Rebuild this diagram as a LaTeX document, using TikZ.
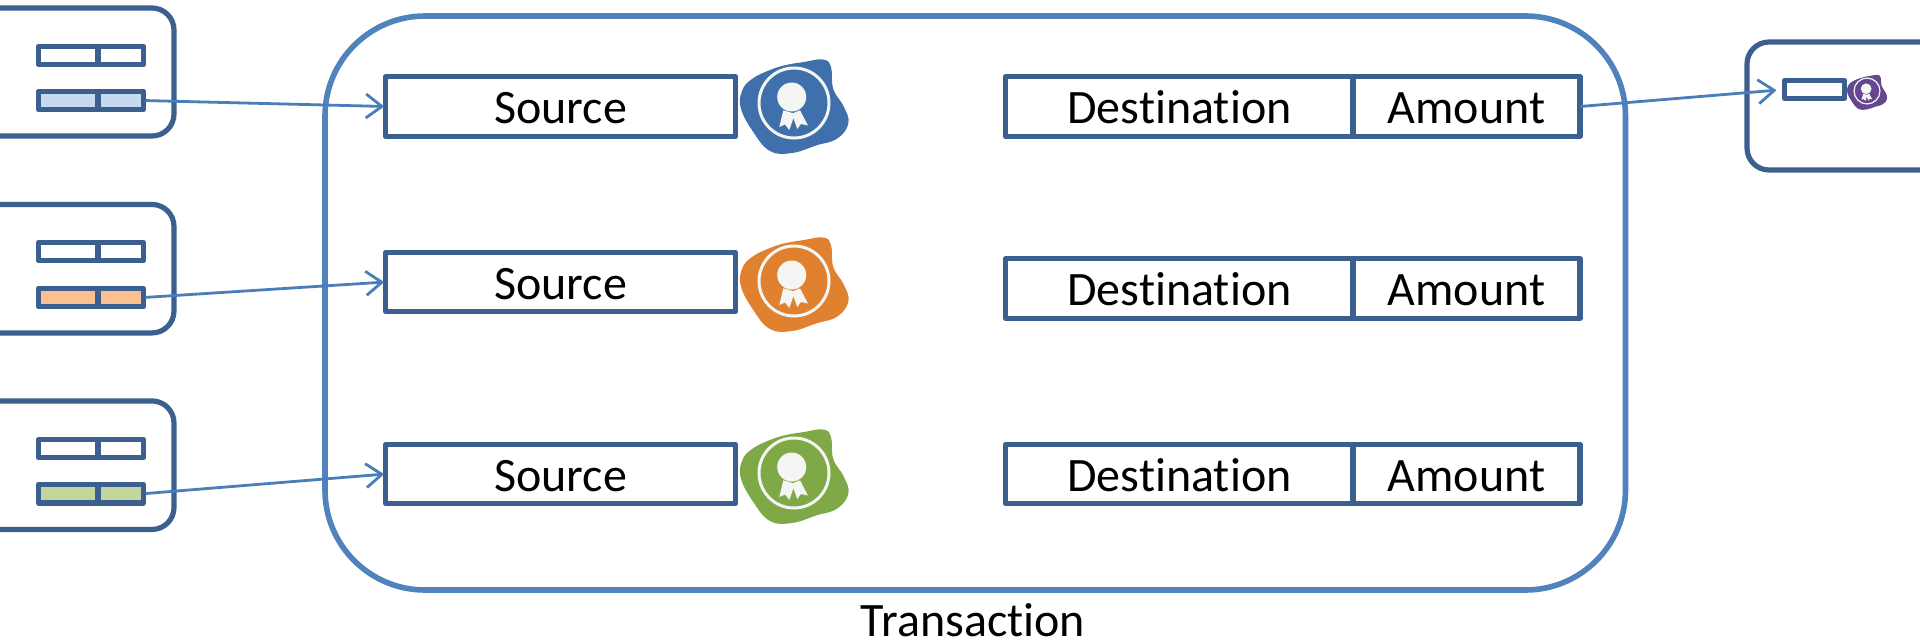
\documentclass[tikz,border=0pt]{standalone}
\usepackage{fontspec}
\setmainfont[Ligatures=NoCommon]{Carlito}
\usetikzlibrary{arrows.meta}
\definecolor{darkedge}{HTML}{3B6090}
\definecolor{bigedge}{HTML}{5082BE}
\definecolor{arrowc}{HTML}{4A7EBB}
\definecolor{fillblue}{HTML}{C6D9F1}
\definecolor{fillorange}{HTML}{FAC08F}
\definecolor{fillgreen}{HTML}{C3D69B}
\definecolor{sealblue}{HTML}{3F70AC}
\definecolor{sealorange}{HTML}{E0812F}
\definecolor{sealgreen}{HTML}{7FA846}
\definecolor{sealpurple}{HTML}{66478F}
\definecolor{sealwhite}{HTML}{F4F6F4}
\newcommand\sealbody[2]{%
  \fill[#1] plot[smooth cycle,tension=.7] coordinates {(-24,-33) (-8,-38) (10,-41) (29,-43.5) (37,-36) (39.3,-14) (50,4) (54.3,20.7) (43,35.7) (22.7,42.3) (-2,50) (-24,48) (-40.7,29) (-53,5.7) (-52,-12) (-42,-24)};
  \draw[sealwhite,line width=#2] (0,0) circle (35);
  \fill[sealwhite] (-2.3,-6) circle (14.5);
  \fill[sealwhite] (-10.7,7.3) -- (-14.7,24) -- (-9,21.5) -- (-4.7,27) -- (1,10.7) -- cycle;
  \fill[sealwhite] (-2.3,10.7) -- (3.3,26) -- (7,21) -- (14,22.5) -- (6,7.3) -- cycle;
}
\tikzset{
  x=1pt,y=-1pt,
  seal/.pic={\sealbody#1},
  holder/.style={draw=darkedge,line width=5.2pt,rounded corners=22pt,fill=white,outer sep=0pt,inner sep=0pt},
  cell/.style={draw=darkedge,line width=5.2pt,line join=round,outer sep=0pt,inner sep=0pt,minimum height=18.5pt,fill=white},
  cellL/.style={cell,minimum width=59.5pt},
  cellR/.style={cell,minimum width=45.5pt},
  field/.style={draw=darkedge,line width=5.2pt,line join=round,outer sep=0pt,inner sep=0pt,minimum height=59.5pt,font=\fontsize{48}{52}\selectfont,text=black,fill=white,text height=40pt,text depth=6pt},
  link/.style={draw=arrowc,line width=2.8pt,-{Straight Barb[length=16pt,width=24pt,line width=2.8pt]}},
}
\begin{document}
\begin{tikzpicture}
\clip (0,0) rectangle (1920,641);
\fill[white] (0,0) rectangle (1920,641);
% left holders
\node[holder,minimum width=234pt,minimum height=128pt] (h1) at (57,72) {};
\node[holder,minimum width=234pt,minimum height=128.5pt] (h2) at (57,268.7) {};
\node[holder,minimum width=234pt,minimum height=128.5pt] (h3) at (57,465.2) {};
% small rows
\foreach \n/\ya/\yb/\col in {1/55.5/100.5/fillblue,2/251.5/297.5/fillorange,3/448.5/493.7/fillgreen}{
  \node[cellL] (u\n L) at (68.25,\ya) {};
  \node[cellR] (u\n R) at (120.75,\ya) {};
  \node[cellL,fill=\col] (d\n L) at (68.25,\yb) {};
  \node[cellR,fill=\col] (d\n R) at (120.75,\yb) {};
}
% transaction
\node[draw=bigedge,line width=5.6pt,rounded corners=100pt,minimum width=1300.5pt,minimum height=574pt,outer sep=0pt,inner sep=0pt] (tx) at (975.25,303) {};
\node[font=\fontsize{48}{52}\selectfont,inner sep=0pt,anchor=base] (txl) at (973,636) {Transaction};
% inputs and outputs
\foreach \n/\y in {1/106.5,2/282,3/474}{
  \node[field,minimum width=349.5pt] (s\n) at (560.5,\y) {Source};
}
\foreach \n/\y in {1/106.5,2/288.5,3/474}{
  \node[field,minimum width=348pt] (dest\n) at (1179.5,\y) {Destination};
  \node[field,minimum width=227pt] (am\n) at (1466.5,\y) {Amount};
}
\path (794,103) pic {seal={{sealblue}{3pt}}};
\path (794,281) pic {seal={{sealorange}{3pt}}};
\path (794,473) pic {seal={{sealgreen}{3pt}}};
% output
\node[holder,minimum width=250pt,minimum height=128pt] (out) at (1872,106) {};
\node[draw=darkedge,line width=5.2pt,line join=round,outer sep=0pt,inner sep=0pt,minimum width=60pt,minimum height=18pt,fill=white] (outr) at (1814.5,89.5) {};
\path (1867,91) pic[scale=.37] {seal={{sealpurple}{1.2pt}}};
% connectors
\draw[link,shorten <=2pt,shorten >=1.5pt] (d1R.east) -- (s1.west);
\draw[link,shorten <=2pt,shorten >=1.5pt] (d2R.east) -- (s2.west);
\draw[link,shorten <=2pt,shorten >=1.5pt] (d3R.east) -- (s3.west);
\draw[link,shorten >=8pt] (am1.east) -- (outr.west);
\end{tikzpicture}
\end{document}
